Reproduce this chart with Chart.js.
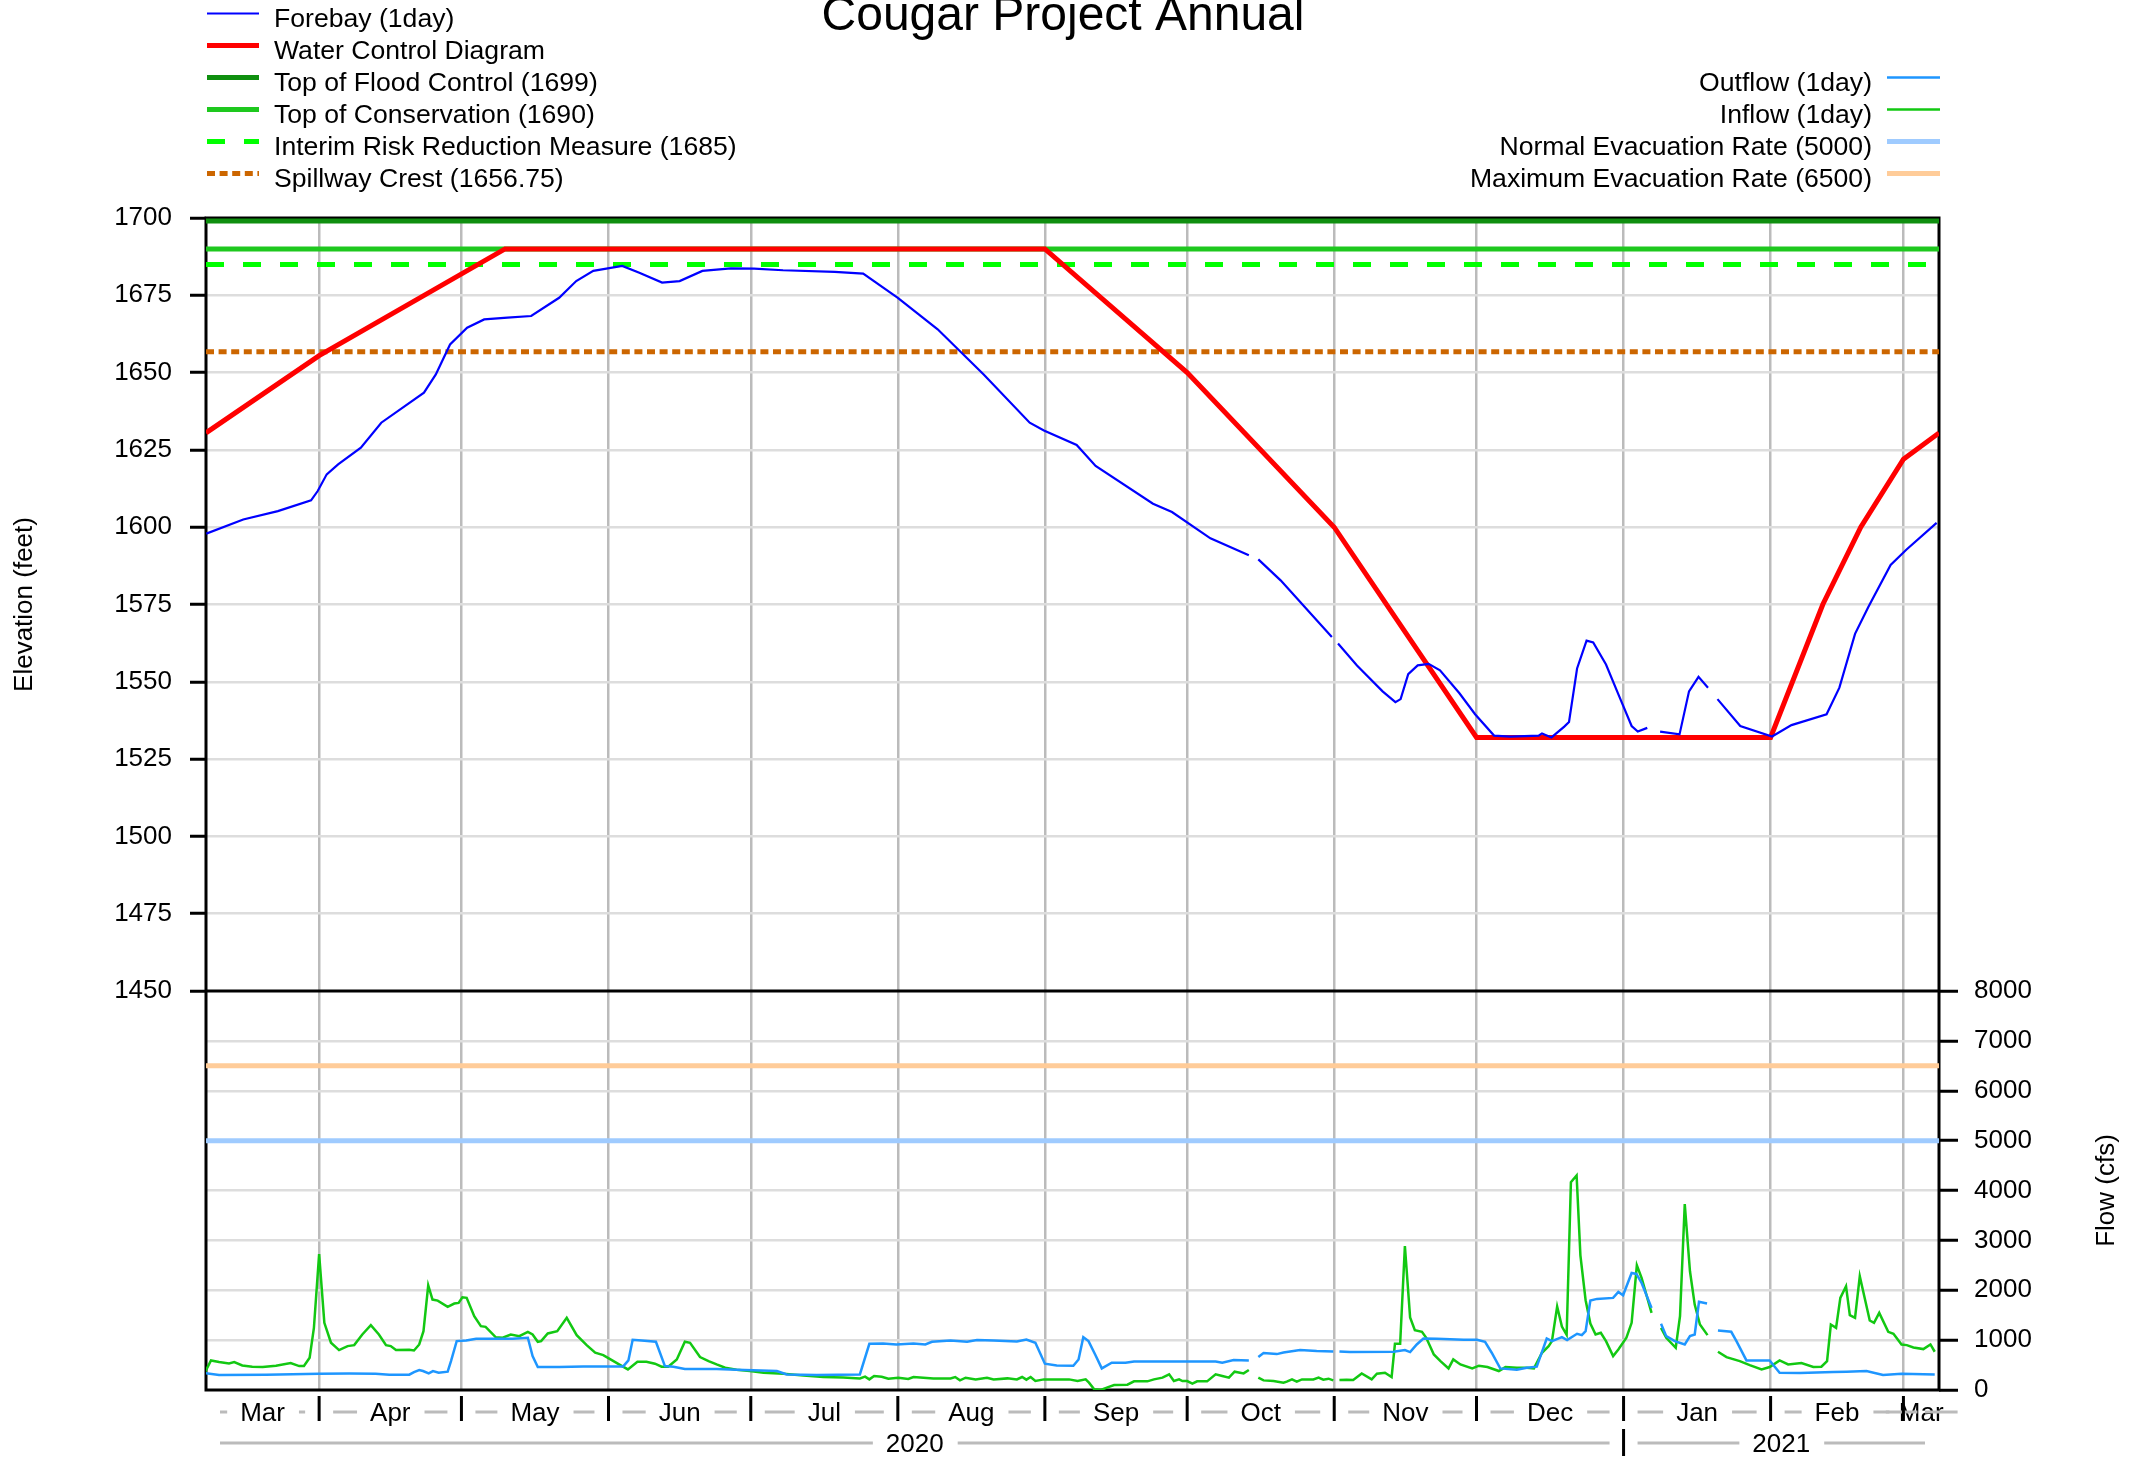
<!DOCTYPE html>
<html>
<head>
<meta charset="utf-8">
<title>Cougar Project Annual</title>
<script src="https://cdn.jsdelivr.net/npm/chart.js@4.4.1/dist/chart.umd.min.js"></script>
<style>
  html, body { margin: 0; padding: 0; background: #fff; }
  #wrap { width: 2138px; height: 1460px; }
</style>
</head>
<body>
<div id="wrap"><canvas id="chart" width="2138" height="1460"></canvas></div>
<script>
// x values are days counted from 1 Mar 2020 (day 0)
const dayMin = 7.15;
const dayMax = 372.5;

const monthStarts = [0, 31, 61, 92, 122, 153, 184, 214, 245, 275, 306, 337, 365, 396];
const monthNames = ["Mar", "Apr", "May", "Jun", "Jul", "Aug", "Sep", "Oct", "Nov", "Dec", "Jan", "Feb", "Mar"];
const yearStarts = [-61, 306, 671];
const yearNames = ["2020", "2021"];

const elevTicks = [1450, 1475, 1500, 1525, 1550, 1575, 1600, 1625, 1650, 1675, 1700];
const flowTicks = [0, 1000, 2000, 3000, 4000, 5000, 6000, 7000, 8000];

// reference levels (from the legend)
const floodControlTop = 1699;
const conservationTop = 1690;
const interimRisk = 1685;
const spillwayCrest = 1656.75;
const normalEvac = 5000;
const maxEvac = 6500;

// [day, feet], null = missing day
const forebay = [
  [7.2, 1597.9], [15.0, 1602.5], [22.3, 1605.2], [29.3, 1608.7], [30.7, 1611.7], [32.6, 1617.1],
  [35.0, 1620.3], [39.8, 1625.7], [44.1, 1633.8], [53.1, 1643.5], [55.6, 1649.4], [58.6, 1659.1],
  [62.2, 1664.5], [65.8, 1667.2], [70.7, 1667.8], [75.7, 1668.3], [81.6, 1674.2], [85.2, 1679.6],
  [88.8, 1682.9], [94.9, 1684.5], [98.5, 1682.3], [103.3, 1679.1], [107.0, 1679.6], [111.8, 1682.9],
  [117.8, 1683.7], [122.7, 1683.6], [128.8, 1683.1], [139.7, 1682.6], [145.7, 1682.0], [153.0, 1674.2],
  [161.4, 1664.0], [171.1, 1649.4], [180.8, 1633.8], [183.8, 1631.3], [190.7, 1626.6], [194.7, 1619.8],
  [206.8, 1607.6], [210.8, 1604.9], [218.9, 1596.4], [227.0, 1590.9], [228.0, null], [229.0, 1589.6],
  [233.7, 1582.8], [244.5, 1564.5], [245.2, null], [245.8, 1562.4], [249.8, 1555.3], [255.2, 1546.9],
  [257.9, 1543.4], [259.0, 1544.4], [260.6, 1552.5], [262.6, 1555.3], [264.9, 1555.8], [267.3, 1553.7],
  [271.4, 1546.3], [274.7, 1539.5], [278.7, 1532.6], [282.1, 1532.3], [288.1, 1532.6], [288.8, 1533.3],
  [290.8, 1532.0], [293.5, 1535.5], [294.5, 1537.0], [296.2, 1554.3], [298.2, 1563.3], [299.6, 1562.7],
  [302.3, 1555.6], [305.0, 1545.6], [307.7, 1535.7], [309.0, 1533.9], [311.0, 1535.1], [312.3, null],
  [313.7, 1533.9], [317.8, 1533.0], [319.8, 1546.9], [321.8, 1551.6], [323.8, 1548.1], [324.8, null],
  [325.8, 1544.4], [330.6, 1535.7], [337.3, 1532.3], [341.4, 1536.0], [348.8, 1539.5], [351.5, 1548.1],
  [354.8, 1565.5], [357.6, 1574.2], [362.3, 1587.8], [365.6, 1592.7], [372.0, 1601.4]
];

const waterControl = [
  [7.15, 1630.5], [31, 1655.5], [70.2, 1690], [184, 1690], [214, 1650], [245, 1600], [275, 1532],
  [337, 1532], [348, 1575], [356, 1600], [365, 1622], [372.5, 1630.5]
];

// [day, cfs]
const outflow = [
  [7.0, 340], [9.9, 300], [19.8, 307], [31.0, 327], [37.3, 333], [42.9, 327], [45.8, 307], [50.0, 307],
  [51.0, 360], [52.1, 400], [52.9, 380], [54.1, 333], [55.0, 380], [56.2, 347], [58.1, 367], [58.8, 580],
  [60.0, 980], [62.0, 993], [64.1, 1027], [67.6, 1027], [71.8, 1027], [75.0, 1047], [76.0, 680], [77.1, 460],
  [81.6, 460], [86.7, 473], [95.1, 473], [96.2, 593], [97.1, 1007], [99.0, 993], [102.0, 967], [103.9, 480],
  [105.7, 467], [108.1, 420], [114.8, 420], [119.0, 407], [127.5, 380], [129.6, 313], [135.9, 300],
  [145.0, 313], [147.0, 927], [149.9, 933], [152.7, 913], [156.3, 933], [158.8, 913], [160.2, 967],
  [164.1, 993], [167.6, 967], [169.7, 1000], [173.2, 993], [178.1, 973], [180.1, 1013], [182.0, 947],
  [184.0, 527], [186.5, 493], [190.0, 487], [191.1, 613], [192.1, 1060], [193.2, 980], [194.6, 713],
  [196.0, 433], [198.1, 547], [201.0, 547], [202.8, 573], [220.0, 573], [221.4, 547], [223.8, 600],
  [227.0, 593], [228.0, null], [229.0, 660], [230.1, 740], [232.9, 720], [234.3, 753], [237.8, 800],
  [241.3, 780], [244.8, 773], [245.4, null], [246.1, 773], [248.3, 760], [257.5, 767], [259.9, 800],
  [261.0, 760], [262.4, 913], [263.8, 1033], [266.6, 1027], [272.3, 1007], [275.1, 1007], [276.8, 967],
  [278.2, 747], [280.0, 433], [283.5, 407], [285.6, 447], [287.7, 467], [289.8, 1033], [290.9, 980],
  [293.0, 1060], [294.1, 1000], [296.2, 1127], [297.2, 1100], [298.0, 1180], [299.0, 1793], [300.4, 1827],
  [303.8, 1847], [304.9, 1967], [305.9, 1900], [307.7, 2347], [308.7, 2327], [309.8, 2147], [311.9, 1647],
  [312.9, null], [313.9, 1327], [315.0, 1080], [316.8, 980], [318.9, 913], [320.0, 1080], [321.0, 1113],
  [321.9, 1767], [323.6, 1733], [324.8, null], [325.9, 1193], [328.7, 1167], [329.8, 980], [331.9, 593],
  [336.8, 593], [338.9, 347], [343.2, 340], [350.2, 360], [353.0, 367], [357.2, 380], [360.7, 300],
  [364.6, 327], [371.6, 313]
];

const inflow = [
  [7.0, 367], [8.2, 593], [9.9, 560], [12.0, 533], [13.1, 560], [14.8, 493], [16.9, 467], [19.1, 460],
  [21.9, 487], [25.0, 540], [26.8, 480], [27.8, 480], [29.0, 647], [29.9, 1247], [31.0, 2727], [32.1, 1347],
  [33.5, 947], [35.2, 800], [37.0, 880], [38.4, 900], [40.1, 1113], [41.9, 1300], [43.6, 1113], [45.1, 900],
  [46.1, 880], [47.2, 800], [50.0, 807], [51.0, 793], [52.1, 913], [53.0, 1180], [54.0, 2100], [54.9, 1813],
  [56.0, 1793], [58.1, 1667], [59.5, 1733], [60.4, 1747], [61.2, 1860], [62.1, 1847], [63.7, 1480],
  [65.1, 1280], [66.1, 1267], [68.2, 1060], [69.7, 1047], [71.4, 1113], [73.2, 1080], [75.0, 1167],
  [76.0, 1113], [77.1, 967], [77.8, 980], [79.2, 1133], [81.2, 1180], [83.2, 1447], [85.3, 1100],
  [87.4, 900], [89.2, 747], [90.9, 700], [92.7, 600], [94.5, 500], [96.1, 413], [98.1, 567], [100.0, 567],
  [101.8, 527], [103.2, 467], [104.6, 467], [106.4, 613], [108.1, 967], [109.2, 947], [111.3, 660],
  [113.1, 580], [114.8, 513], [116.6, 447], [119.0, 407], [121.8, 380], [124.7, 347], [128.9, 327],
  [133.1, 293], [137.3, 260], [141.5, 253], [145.0, 233], [146.1, 267], [147.0, 213], [148.0, 280],
  [149.6, 267], [151.0, 227], [153.1, 247], [155.2, 220], [156.3, 260], [160.5, 233], [164.1, 233],
  [165.1, 260], [166.1, 193], [167.3, 247], [169.4, 213], [171.8, 247], [173.2, 213], [176.1, 233],
  [178.1, 213], [179.2, 260], [180.1, 207], [181.0, 260], [182.0, 180], [183.8, 213], [186.3, 213],
  [189.1, 213], [190.9, 180], [192.6, 213], [193.3, 147], [194.4, 13], [195.8, 0], [197.2, 53],
  [198.6, 100], [201.4, 107], [202.8, 173], [205.6, 173], [207.0, 213], [208.8, 247], [210.2, 313],
  [211.2, 180], [212.3, 213], [213.0, 180], [214.0, 180], [215.1, 127], [216.1, 173], [218.2, 173],
  [220.0, 313], [221.4, 280], [222.8, 247], [224.0, 367], [225.9, 333], [227.0, 400], [228.0, null],
  [229.0, 247], [230.1, 193], [232.2, 180], [234.3, 147], [235.0, 167], [236.1, 213], [237.1, 167],
  [238.2, 213], [240.6, 213], [241.7, 247], [242.7, 207], [243.8, 227], [244.8, 193], [245.4, null],
  [246.1, 200], [247.6, 207], [249.0, 200], [250.8, 333], [252.9, 213], [254.0, 327], [255.7, 347],
  [257.1, 260], [257.8, 927], [258.9, 927], [259.9, 2887], [261.0, 1453], [262.0, 1200], [263.5, 1167],
  [264.4, 1047], [266.0, 713], [267.4, 580], [269.1, 433], [270.1, 613], [271.6, 513], [274.1, 433],
  [275.5, 487], [277.3, 460], [279.7, 380], [281.1, 460], [283.5, 447], [285.6, 447], [287.1, 433],
  [288.8, 747], [290.2, 880], [290.9, 980], [292.0, 1673], [293.0, 1273], [294.0, 1107], [294.9, 4167],
  [296.1, 4300], [296.9, 2700], [298.0, 1800], [299.0, 1333], [300.1, 1113], [301.2, 1147], [302.3, 980],
  [303.8, 680], [304.9, 813], [306.6, 1047], [307.7, 1347], [308.8, 2500], [309.8, 2247], [311.9, 1547],
  [312.9, null], [313.9, 1247], [315.0, 1047], [317.0, 847], [317.9, 1480], [318.9, 3727], [320.0, 2380],
  [321.0, 1713], [322.1, 1313], [323.7, 1100], [324.8, null], [325.9, 767], [327.7, 660], [330.5, 580],
  [332.6, 500], [335.1, 413], [336.8, 460], [338.9, 593], [340.7, 513], [343.5, 540], [346.0, 460],
  [347.7, 467], [348.9, 580], [349.7, 1313], [350.8, 1247], [351.7, 1847], [352.9, 2080], [353.7, 1500],
  [354.8, 1447], [355.8, 2280], [357.9, 1393], [358.8, 1347], [359.9, 1547], [361.8, 1167], [362.9, 1127],
  [364.6, 913], [365.7, 900], [367.1, 853], [369.2, 820], [370.7, 913], [371.6, 767]
];

const FONT = '"Liberation Sans", Arial, sans-serif';

const toXY = (arr) => arr.map(p => ({ x: p[0], y: p[1] }));
const flat = (v) => [{ x: dayMin, y: v }, { x: dayMax, y: v }];

function lineSet(label, data, color, width, axis, dash) {
    return {
        label: label,
        data: data,
        borderColor: color,
        backgroundColor: color,
        borderWidth: width,
        borderDash: dash || [],
        yAxisID: axis,
        pointRadius: 0,
        tension: 0,
        spanGaps: false,
        fill: false
    };
}

const datasets = [
    lineSet("Forebay (1day)", toXY(forebay), "#0000ff", 2.2, "y"),
    lineSet("Water Control Diagram", toXY(waterControl), "#ff0000", 5, "y"),
    lineSet("Top of Flood Control (1699)", flat(floodControlTop), "#0f8f0f", 5, "y"),
    lineSet("Top of Conservation (1690)", flat(conservationTop), "#1ec81e", 5, "y"),
    lineSet("Interim Risk Reduction Measure (1685)", flat(interimRisk), "#00ff00", 5, "y", [18, 19]),
    lineSet("Spillway Crest (1656.75)", flat(spillwayCrest), "#cc6600", 5, "y", [8, 4.6]),
    lineSet("Outflow (1day)", toXY(outflow), "#1e96ff", 2.5, "y1"),
    lineSet("Inflow (1day)", toXY(inflow), "#12c812", 2.5, "y1"),
    lineSet("Normal Evacuation Rate (5000)", flat(normalEvac), "#9fcbff", 5, "y1"),
    lineSet("Maximum Evacuation Rate (6500)", flat(maxEvac), "#ffcc99", 5, "y1")
];

// left legend = elevation items, right legend = flow items
const leftLegend = [0, 1, 2, 3, 4, 5];
const rightLegend = [6, 7, 8, 9];

const decorations = {
    id: "decorations",
    beforeDraw(chart) {
        const ctx = chart.ctx;
        ctx.save();
        ctx.fillStyle = "#ffffff";
        ctx.fillRect(0, 0, chart.width, chart.height);
        ctx.restore();
    },
    beforeDatasetsDraw(chart) {
        // black frame and the line between the two panels
        const ctx = chart.ctx;
        const a = chart.chartArea;
        const mid = chart.scales.y.getPixelForValue(1450);
        ctx.save();
        ctx.strokeStyle = "#000";
        ctx.lineWidth = 3;
        ctx.strokeRect(a.left, a.top, a.right - a.left, a.bottom - a.top);
        ctx.beginPath();
        ctx.moveTo(a.left, mid);
        ctx.lineTo(a.right, mid);
        ctx.stroke();
        ctx.restore();
    },
    afterDraw(chart) {
        const ctx = chart.ctx;
        const a = chart.chartArea;
        const xs = chart.scales.x;
        ctx.save();

        // title, cut by the top edge as in the original
        ctx.fillStyle = "#000";
        ctx.font = "48px " + FONT;
        ctx.textAlign = "center";
        ctx.textBaseline = "alphabetic";
        ctx.fillText("Cougar Project Annual", 1063, 30);

        // legends
        ctx.font = "26.6px " + FONT;
        ctx.textBaseline = "middle";
        const sample = (i, x0, x1, y) => {
            const ds = chart.data.datasets[i];
            ctx.save();
            ctx.strokeStyle = ds.borderColor;
            ctx.lineWidth = ds.borderWidth;
            ctx.setLineDash(ds.borderDash || []);
            ctx.beginPath();
            ctx.moveTo(x0, y);
            ctx.lineTo(x1, y);
            ctx.stroke();
            ctx.restore();
        };
        leftLegend.forEach((i, k) => {
            const y = 13.5 + k * 32;
            sample(i, 207, 259, y);
            ctx.textAlign = "left";
            ctx.fillText(chart.data.datasets[i].label, 274, y + 6);
        });
        rightLegend.forEach((i, k) => {
            const y = 77.5 + k * 32;
            sample(i, 1887, 1940, y);
            ctx.textAlign = "right";
            ctx.fillText(chart.data.datasets[i].label, 1872, y + 6);
        });

        // axis titles
        ctx.font = "26px " + FONT;
        ctx.textAlign = "center";
        ctx.save();
        ctx.translate(25, (a.top + chart.scales.y.getPixelForValue(1450)) / 2);
        ctx.rotate(-Math.PI / 2);
        ctx.fillText("Elevation (feet)", 0, 0);
        ctx.restore();
        ctx.save();
        ctx.translate(2107, (a.bottom + chart.scales.y.getPixelForValue(1450)) / 2);
        ctx.rotate(-Math.PI / 2);
        ctx.fillText("Flow (cfs)", 0, 0);
        ctx.restore();

        // month and year rows
        const monthY = 1414;
        const yearY = 1445;
        const dash = (x0, x1, y) => {
            ctx.save();
            ctx.strokeStyle = "#bbbbbb";
            ctx.lineWidth = 3;
            ctx.beginPath();
            ctx.moveTo(x0, y);
            ctx.lineTo(x1, y);
            ctx.stroke();
            ctx.restore();
        };
        const tick = (x, y0, y1) => {
            ctx.save();
            ctx.strokeStyle = "#000";
            ctx.lineWidth = 3;
            ctx.beginPath();
            ctx.moveTo(x, y0);
            ctx.lineTo(x, y1);
            ctx.stroke();
            ctx.restore();
        };
        const labelRow = (starts, names, y) => {
            for (let i = 0; i < names.length; i++) {
                const lo = Math.max(starts[i], xs.min);
                const hi = Math.min(starts[i + 1], xs.max);
                if (hi <= lo) continue;
                const pa = xs.getPixelForValue(lo);
                const pb = xs.getPixelForValue(hi);
                const c = (pa + pb) / 2;
                const w = ctx.measureText(names[i]).width;
                ctx.fillStyle = "#000";
                ctx.fillText(names[i], c, y);
                dash(pa + 14, c - w / 2 - 13, y - 2);
                dash(c + w / 2 + 14, pb - 14, y - 2);
            }
        };
        labelRow(monthStarts, monthNames, monthY);
        labelRow(yearStarts, yearNames, yearY);
        monthStarts.forEach(d => {
            if (d > xs.min && d < xs.max) tick(xs.getPixelForValue(d), 1396, 1421);
        });
        yearStarts.forEach(d => {
            if (d > xs.min && d < xs.max) tick(xs.getPixelForValue(d), 1429, 1456);
        });

        ctx.restore();
    }
};

const elevGrid = (c) => (c.tick && (c.tick.value === 1450 || c.tick.value === 1700)) ? "rgba(0,0,0,0)" : "#dddddd";
const flowGrid = (c) => (c.tick && (c.tick.value === 0 || c.tick.value === 8000)) ? "rgba(0,0,0,0)" : "#dddddd";

new Chart(document.getElementById("chart"), {
    type: "line",
    data: { datasets: datasets },
    options: {
        responsive: false,
        devicePixelRatio: 1,
        animation: false,
        layout: { padding: { top: 218, bottom: 70, left: 0, right: 0 } },
        plugins: {
            legend: { display: false },
            tooltip: { enabled: false },
            title: { display: false }
        },
        scales: {
            x: {
                type: "linear",
                min: dayMin,
                max: dayMax,
                afterBuildTicks: (axis) => {
                    axis.ticks = monthStarts.filter(d => d > dayMin && d < dayMax).map(d => ({ value: d }));
                },
                afterFit: (axis) => { axis.height = 0; },
                ticks: { display: false },
                grid: { color: "#bbbbbb", lineWidth: 2.5, drawTicks: false },
                border: { display: false }
            },
            y: {
                type: "linear",
                position: "left",
                min: 1700 - 250 * 1172 / 773,
                max: 1700,
                afterBuildTicks: (axis) => { axis.ticks = elevTicks.map(v => ({ value: v })); },
                afterFit: (axis) => { axis.width = 206; },
                ticks: {
                    color: "#000",
                    font: { family: FONT, size: 26 },
                    padding: 18,
                    callback: (v) => String(v)
                },
                grid: { color: elevGrid, lineWidth: 2.5, tickLength: 16, tickColor: "#000", tickWidth: 3 },
                border: { display: false }
            },
            y1: {
                type: "linear",
                position: "right",
                min: 0,
                max: 8000 * 1172 / 399,
                afterBuildTicks: (axis) => { axis.ticks = flowTicks.map(v => ({ value: v })); },
                afterFit: (axis) => { axis.width = 199; },
                ticks: {
                    color: "#000",
                    font: { family: FONT, size: 26 },
                    padding: 16,
                    callback: (v) => String(v)
                },
                grid: { color: flowGrid, lineWidth: 2.5, tickLength: 19, tickColor: "#000", tickWidth: 3 },
                border: { display: false }
            }
        }
    },
    plugins: [decorations]
});
</script>
</body>
</html>
